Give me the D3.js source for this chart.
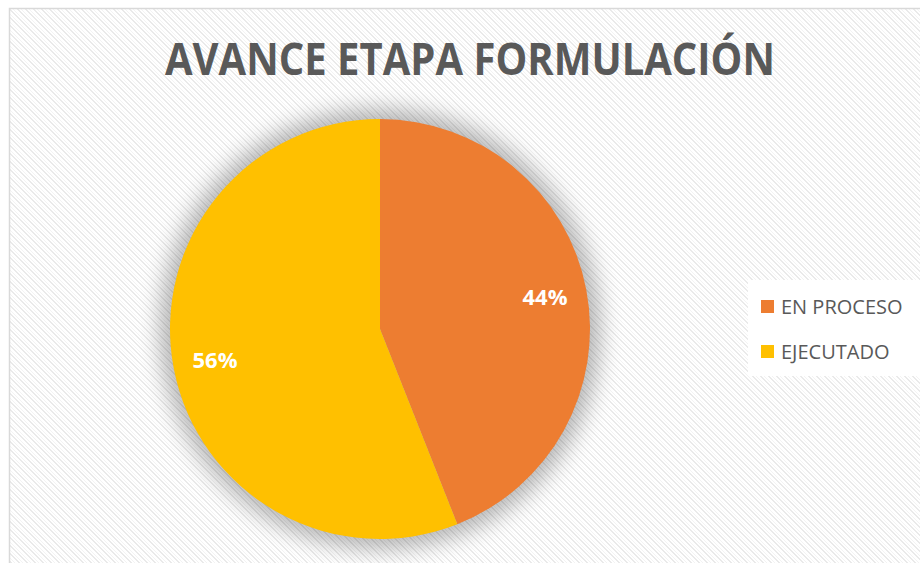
<!DOCTYPE html>
<html>
<head>
<meta charset="utf-8">
<script src="https://cdn.jsdelivr.net/npm/d3@7"></script>
<style>
  html, body { margin: 0; padding: 0; background: #fff; }
  svg { display: block; }
</style>
</head>
<body>
<svg id="chart" width="920" height="563"></svg>
<script>
const categories = ["EN PROCESO", "EJECUTADO"];
const values = [44, 56];
const colors = ["#ed7d31", "#ffc000"];
const title = "AVANCE ETAPA FORMULACIÓN";

const svg = d3.select("#chart");
const defs = svg.append("defs");

// stepped diagonal texture like the office "woven" fill
const pat = defs.append("pattern")
  .attr("id", "weave")
  .attr("patternUnits", "userSpaceOnUse")
  .attr("width", 8)
  .attr("height", 8);
pat.append("rect").attr("width", 8).attr("height", 8).attr("fill", "#ffffff");
[[0,0],[1,1],[2,2],[3,3],[4,4],[5,5],[6,6],[7,7],[1,0],[2,1],[3,2],[4,3],[5,4],[6,5],[7,6],[0,7]]
  .forEach(([x, y]) => {
    pat.append("rect").attr("x", x).attr("y", y)
      .attr("width", 1).attr("height", 1).attr("fill", "#eaeaea");
  });
[[4,0],[5,1],[6,2],[7,3],[0,4],[1,5],[2,6],[3,7]].forEach(([x, y]) => {
  pat.append("rect").attr("x", x).attr("y", y)
    .attr("width", 1).attr("height", 1).attr("fill", "#f3f3f3");
});

const blur = defs.append("filter")
  .attr("id", "glow")
  .attr("x", "-30%").attr("y", "-30%")
  .attr("width", "160%").attr("height", "160%");
blur.append("feGaussianBlur").attr("stdDeviation", 11);

// chart area
svg.append("rect")
  .attr("x", 9.5).attr("y", 8.5)
  .attr("width", 930).attr("height", 570)
  .attr("fill", "url(#weave)")
  .attr("stroke", "#d9d9d9")
  .attr("stroke-width", 1.5);

svg.append("text")
  .attr("x", 470)
  .attr("y", 75)
  .attr("text-anchor", "middle")
  .attr("font-family", "'Open Sans', 'Liberation Sans', sans-serif")
  .attr("font-weight", "bold")
  .attr("font-size", 44)
  .attr("textLength", 610)
  .attr("lengthAdjust", "spacingAndGlyphs")
  .attr("fill", "#595959")
  .text(title);

const cx = 380, cy = 329, r = 210;
const g = svg.append("g").attr("transform", `translate(${cx},${cy})`);

g.append("circle")
  .attr("r", r + 10)
  .attr("fill", "#000")
  .attr("opacity", 0.28)
  .attr("filter", "url(#glow)");

const pie = d3.pie().sort(null).value(d => d);
const arcs = pie(values);
const arc = d3.arc().innerRadius(0).outerRadius(r);
const labelArc = d3.arc().innerRadius(r * 0.8).outerRadius(r * 0.8);

g.selectAll("path.slice")
  .data(arcs)
  .enter()
  .append("path")
  .attr("class", "slice")
  .attr("d", arc)
  .attr("fill", (d, i) => colors[i]);

g.selectAll("text.lbl")
  .data(arcs)
  .enter()
  .append("text")
  .attr("class", "lbl")
  .attr("transform", d => `translate(${labelArc.centroid(d)})`)
  .attr("text-anchor", "middle")
  .attr("dy", "0.36em")
  .attr("font-family", "'Open Sans', 'Liberation Sans', sans-serif")
  .attr("font-weight", "bold")
  .attr("font-size", 22)
  .attr("fill", "#fff")
  .text(d => d.data + "%");

// legend
const leg = svg.append("g").attr("transform", "translate(748,280)");
leg.append("rect").attr("width", 172).attr("height", 96).attr("fill", "#fff");
categories.forEach((c, i) => {
  const row = leg.append("g").attr("transform", `translate(0,${20 + i * 45})`);
  row.append("rect")
    .attr("x", 13).attr("y", 0)
    .attr("width", 13).attr("height", 13)
    .attr("fill", colors[i]);
  row.append("text")
    .attr("x", 33).attr("y", 14)
    .attr("font-family", "'Open Sans', 'Liberation Sans', sans-serif")
    .attr("font-size", 20)
    .attr("fill", "#595959")
    .text(c);
});
</script>
</body>
</html>
